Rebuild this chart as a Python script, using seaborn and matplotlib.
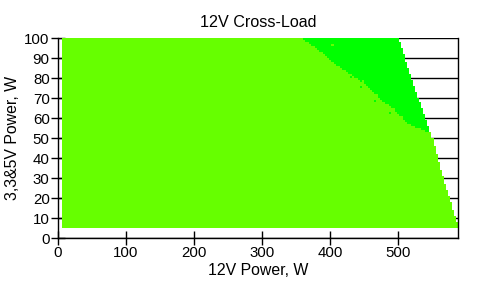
import numpy as np
import pandas as pd
import matplotlib
matplotlib.use("Agg")
import matplotlib.pyplot as plt
import seaborn as sns
from matplotlib.colors import ListedColormap

# ---- text ----
title = "12V Cross-Load"
xlabel = "12V Power, W"
ylabel = "3,3&5V Power, W"
x_ticks = [0, 100, 200, 300, 400, 500]
y_ticks = [0, 10, 20, 30, 40, 50, 60, 70, 80, 90, 100]

# ---- measurement grid (W) ----
x_step = 3
y_step = 1
x_max = 588
y_max = 100
x_min_load = 7.5
y_min_load = 5.3

# right edge of the tested region: 12V max for given 3.3&5V load
edge_y = [5, 30, 54, 60, 70, 80, 90, 100]
edge_x = [589, 566, 547, 540, 530, 519, 510, 501]

# lower-left boundary of the bright-green zone (start x for each y)
bright_y = [53.5, 54, 57, 62, 67, 72, 77, 82, 87, 91.5, 96.5, 100]
bright_x = [541, 537, 515, 500, 483, 466, 451, 429, 407, 393, 373, 358]

# isolated cells
lime_specks = [(402, 96), (388, 91), (415, 84), (447, 78), (470, 71), (492, 64), (505, 60)]
green_specks = [(442, 85), (446, 75), (430, 80), (465, 68), (486, 62), (520, 56), (476, 69)]

# ---- build the cell table ----
xc = np.arange(0, x_max, x_step) + x_step / 2
yc = np.arange(0, y_max, y_step) + y_step / 2
XX, YY = np.meshgrid(xc, yc)
edge = np.interp(YY, edge_y, edge_x)
valid = (XX >= x_min_load) & (YY >= y_min_load) & (XX <= edge)
bright = np.where(YY >= bright_y[0], np.interp(YY, bright_y, bright_x), np.inf)
state = np.where(valid, np.where(XX >= bright, 2.0, 1.0), np.nan)
for (sx, sy), v in [(p, 1.0) for p in lime_specks] + [(p, 2.0) for p in green_specks]:
    i, j = int(sx // x_step), int(sy // y_step)
    if valid[j, i]:
        state[j, i] = v
df = pd.DataFrame(state, index=yc, columns=xc)

# ---- style ----
sns.set_style("white")
plt.rcParams["font.family"] = ["Liberation Sans", "DejaVu Sans"]

fig = plt.figure(figsize=(4.87, 2.86), dpi=100)
ax = fig.add_axes([58 / 487, 1 - 238 / 286, 400 / 487, 200 / 286])

cmap = ListedColormap(["#66FF00", "#00FF00"])
sns.heatmap(df, ax=ax, cmap=cmap, vmin=1, vmax=2, cbar=False,
            xticklabels=False, yticklabels=False, linewidths=0)

# map data units onto heatmap cell positions
ax.set_xlim(0, x_max / x_step)
ax.set_ylim(0, y_max / y_step)
ax.set_xticks([t / x_step for t in x_ticks])
ax.set_xticklabels([str(t) for t in x_ticks])
ax.set_yticks([t / y_step for t in y_ticks])
ax.set_yticklabels([str(t) for t in y_ticks], rotation=0)

for s in ["left", "bottom", "right"]:
    ax.spines[s].set_visible(True)
    ax.spines[s].set_color("black")
    ax.spines[s].set_linewidth(1)
ax.spines["top"].set_visible(False)

ax.set_axisbelow(True)
ax.yaxis.grid(True, color="black", linewidth=1)
ax.xaxis.grid(False)

ax.tick_params(axis="both", direction="inout", length=10, width=1,
               color="black", labelsize=10.8, labelcolor="black")
ax.tick_params(axis="x", pad=1, bottom=True)
ax.tick_params(axis="y", pad=1, left=True)

ax.set_title(title, fontsize=11.6, color="black", pad=8)
ax.set_xlabel(xlabel, fontsize=11.4, color="black", labelpad=2)
ax.set_ylabel(ylabel, fontsize=11.4, color="black", labelpad=3)

fig.savefig("out.png", dpi=100)
